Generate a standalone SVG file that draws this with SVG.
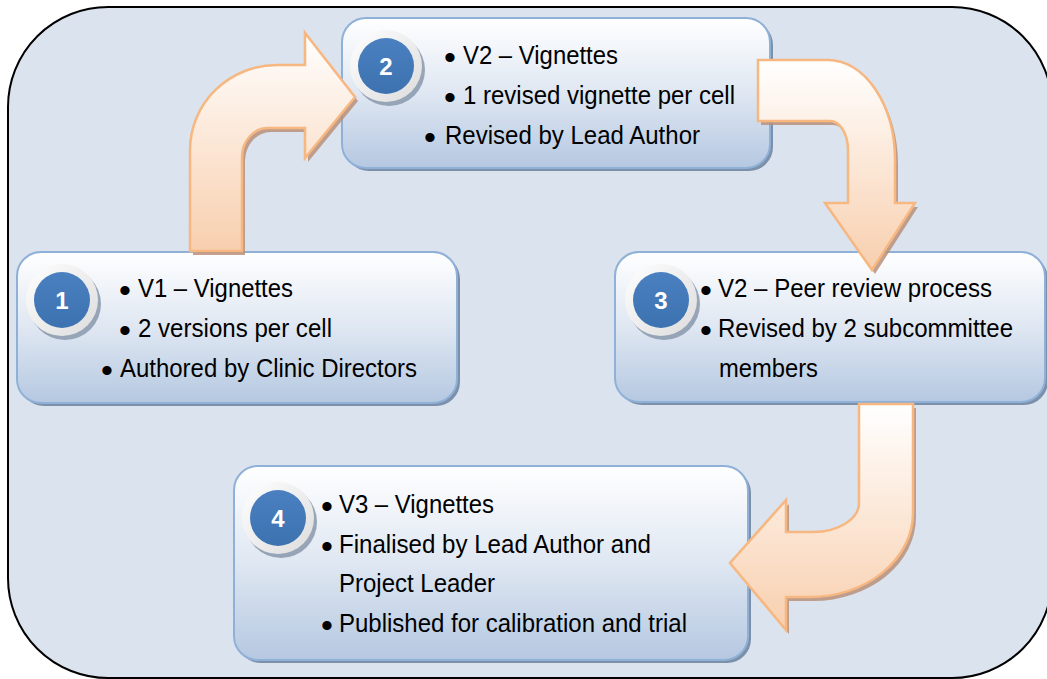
<svg xmlns="http://www.w3.org/2000/svg" width="1047" height="679" viewBox="0 0 1047 679">
<defs>
<linearGradient id="boxg" x1="0" y1="0" x2="0" y2="1">
<stop offset="0" stop-color="#ffffff"/>
<stop offset="0.5" stop-color="#dfe7f2"/>
<stop offset="1" stop-color="#b5c8e1"/>
</linearGradient>
<linearGradient id="arrg" x1="0" y1="0" x2="0" y2="1">
<stop offset="0" stop-color="#ffffff"/>
<stop offset="1" stop-color="#f8cfae"/>
</linearGradient>
<linearGradient id="ringg" x1="0" y1="0" x2="1" y2="1">
<stop offset="0" stop-color="#ffffff"/>
<stop offset="1" stop-color="#dcdcdc"/>
</linearGradient>
<linearGradient id="blueg" x1="0" y1="0" x2="0" y2="1">
<stop offset="0" stop-color="#4a80c0"/>
<stop offset="1" stop-color="#3d72b0"/>
</linearGradient>
</defs>
<style>
.frame{fill:#dbe3ef;stroke:#000;stroke-width:2}
.box{fill:url(#boxg);stroke:#8fb0d7;stroke-width:2}
.bsh{fill:#7d90aa}
.arr{fill:url(#arrg);stroke:#f7b781;stroke-width:2.5;stroke-linejoin:miter}
.ash{fill:#b8917a;opacity:0.85}
.ring{fill:url(#ringg)}
.rsh{fill:#8e9cb0;opacity:0.9}
.blue{fill:url(#blueg)}
.num{font-family:"Liberation Sans",Arial,sans-serif;font-weight:bold;font-size:24px;fill:#fff;text-anchor:middle}
.t{font-family:"Liberation Sans Narrow","Liberation Sans",Arial,sans-serif;font-size:26.5px;fill:#000}
.b{font-family:"Liberation Sans",Arial,sans-serif;font-size:34px;fill:#000;text-anchor:middle}
</style>
<rect class="frame" x="8" y="7" width="1044" height="671" rx="100" ry="100"/>

<g id="node1">
<rect class="bsh" x="20" y="255" width="440" height="151" rx="24"/>
<rect class="box" x="17" y="252" width="440" height="151" rx="24"/>
<circle class="rsh" cx="65" cy="304" r="36"/>
<circle class="ring" cx="62" cy="300" r="36"/>
<circle class="blue" cx="62" cy="300" r="28"/>
<text class="num" x="62" y="309">1</text>
<text class="b" x="125" y="302">•</text>
<text class="t" x="138" y="297" textLength="155" lengthAdjust="spacingAndGlyphs">V1 – Vignettes</text>
<text class="b" x="125" y="342">•</text>
<text class="t" x="138" y="337" textLength="194" lengthAdjust="spacingAndGlyphs">2 versions per cell</text>
<text class="b" x="107" y="382">•</text>
<text class="t" x="120" y="377" textLength="297" lengthAdjust="spacingAndGlyphs">Authored by Clinic Directors</text>
</g>

<g id="node2">
<rect class="bsh" x="345" y="21" width="428" height="150" rx="24"/>
<rect class="box" x="342" y="18" width="428" height="150" rx="24"/>
<circle class="rsh" cx="389" cy="70" r="36"/>
<circle class="ring" cx="386" cy="66" r="36"/>
<circle class="blue" cx="386" cy="66" r="28"/>
<text class="num" x="386" y="75">2</text>
<text class="b" x="450" y="69">•</text>
<text class="t" x="463" y="64" textLength="155" lengthAdjust="spacingAndGlyphs">V2 – Vignettes</text>
<text class="b" x="450" y="109">•</text>
<text class="t" x="463" y="104" textLength="272" lengthAdjust="spacingAndGlyphs">1 revised vignette per cell</text>
<text class="b" x="430" y="149">•</text>
<text class="t" x="445" y="144" textLength="255" lengthAdjust="spacingAndGlyphs">Revised by Lead Author</text>
</g>

<g id="node3">
<rect class="bsh" x="618" y="255" width="430" height="150" rx="24"/>
<rect class="box" x="615" y="252" width="430" height="150" rx="24"/>
<circle class="rsh" cx="664" cy="304" r="36"/>
<circle class="ring" cx="661" cy="300" r="36"/>
<circle class="blue" cx="661" cy="300" r="28"/>
<text class="num" x="661" y="309">3</text>
<text class="b" x="706" y="302">•</text>
<text class="t" x="718" y="297" textLength="274" lengthAdjust="spacingAndGlyphs">V2 – Peer review process</text>
<text class="b" x="706" y="342">•</text>
<text class="t" x="718" y="337" textLength="295" lengthAdjust="spacingAndGlyphs">Revised by 2 subcommittee</text>
<text class="t" x="719" y="377" textLength="99" lengthAdjust="spacingAndGlyphs">members</text>
</g>

<g id="node4">
<rect class="bsh" x="237" y="469" width="514" height="194" rx="24"/>
<rect class="box" x="234" y="466" width="514" height="194" rx="24"/>
<circle class="rsh" cx="281" cy="522" r="36"/>
<circle class="ring" cx="278" cy="518" r="36"/>
<circle class="blue" cx="278" cy="518" r="28"/>
<text class="num" x="278" y="527">4</text>
<text class="b" x="327" y="518">•</text>
<text class="t" x="339" y="513" textLength="155" lengthAdjust="spacingAndGlyphs">V3 – Vignettes</text>
<text class="b" x="327" y="558">•</text>
<text class="t" x="339" y="553" textLength="312" lengthAdjust="spacingAndGlyphs">Finalised by Lead Author and</text>
<text class="t" x="339" y="592" textLength="156" lengthAdjust="spacingAndGlyphs">Project Leader</text>
<text class="b" x="327" y="637">•</text>
<text class="t" x="339" y="632" textLength="348" lengthAdjust="spacingAndGlyphs">Published for calibration and trial</text>
</g>

<g id="connectors">
<g id="arrow1">
<path class="ash" transform="translate(3,4)" d="M190,251 L190,150 A87,85 0 0 1 277,65 L305,65 L305,33 L355,97 L305,158 L305,128 L268,128 A26,29 0 0 0 242,157 L242,251 Z"/>
<path class="arr" d="M190,251 L190,150 A87,85 0 0 1 277,65 L305,65 L305,33 L355,97 L305,158 L305,128 L268,128 A26,29 0 0 0 242,157 L242,251 Z"/>
</g>
<g id="arrow2">
<path class="ash" transform="translate(3,4)" d="M758,60 L828,60 A67,100 0 0 1 895,160 L895,203 L915,203 L872,270 L825,203 L848,203 L848,150 A18,29 0 0 0 830,121 L758,121 Z"/>
<path class="arr" d="M758,60 L828,60 A67,100 0 0 1 895,160 L895,203 L915,203 L872,270 L825,203 L848,203 L848,150 A18,29 0 0 0 830,121 L758,121 Z"/>
</g>
<g id="arrow3">
<path class="ash" transform="translate(3,4)" d="M859,404 L913,404 L913,513 A103,84 0 0 1 810,597 L786,597 L786,630 L730,563 L786,500 L786,532 L813,532 A46,29 0 0 0 859,503 Z"/>
<path class="arr" d="M859,404 L913,404 L913,513 A103,84 0 0 1 810,597 L786,597 L786,630 L730,563 L786,500 L786,532 L813,532 A46,29 0 0 0 859,503 Z"/>
</g>
</g>
</svg>
